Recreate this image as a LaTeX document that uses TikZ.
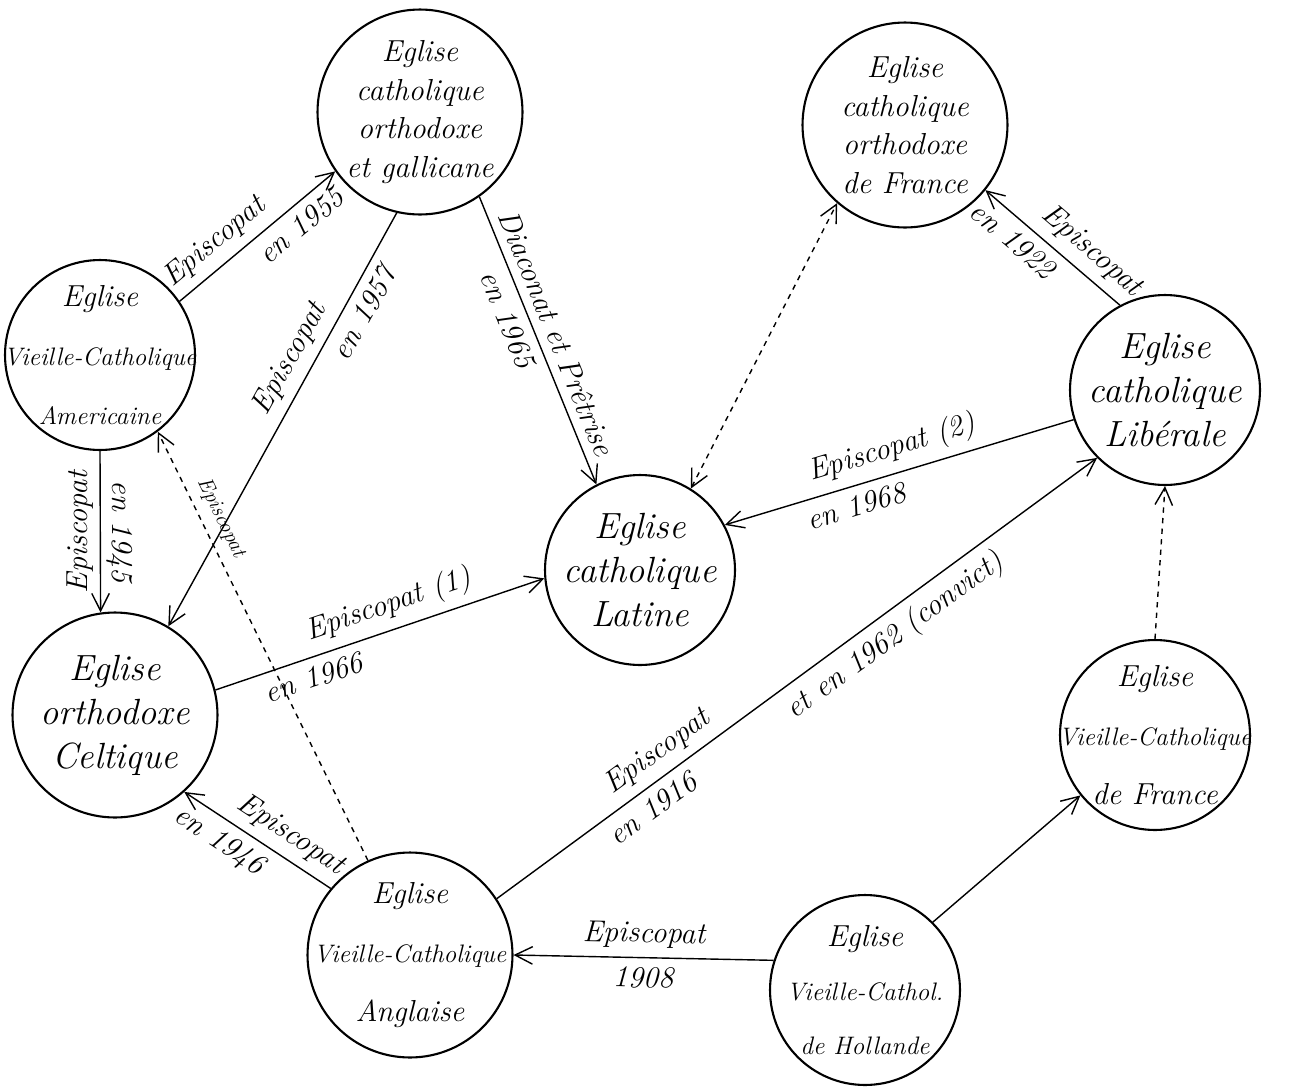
\documentclass[tikz,border=0pt]{standalone}
\usepackage{tikz}
\usetikzlibrary{arrows.meta,positioning}
\tikzstyle{eglise} = [draw, circle, very thick, inner sep=0pt, minimum size=3.8cm]
\tikzstyle{grande} = [minimum size=4.1cm]
\tikzstyle{texte} = [align=center, inner sep=0pt, font=\huge\itshape]
\tikzstyle{petit} = [font=\LARGE\itshape]
\tikzstyle{arrow} = [draw, thick, -{Straight Barb[length=3.5mm,width=3.5mm]}]
\tikzstyle{dasharrow} = [draw, thick, dashed, -{Straight Barb[length=3.5mm,width=3.5mm]}]
\tikzstyle{bidash} = [draw, thick, dashed, {Straight Barb[length=3.5mm,width=3.5mm]}-{Straight Barb[length=3.5mm,width=3.5mm]}]
\tikzstyle{lbl} = [font=\LARGE\itshape, sloped, inner sep=5pt]
\newcommand{\eglise}[3]{node (e#1) [eglise, label={[texte,#2]center:{#3}}] {}}
\newcommand{\grande}[3]{node (e#1) [eglise, grande, label={[texte,#2]center:{#3}}] {}}

\begin{document}
\begin{tikzpicture}[x=0.02cm,y=-0.02cm]
\useasboundingbox (0,0) rectangle (1289,1089);
\path (420,112) \grande{gal}{petit}{Eglise\\ catholique\\ orthodoxe\\ et gallicane};
\path (905,125) \grande{ofr}{petit}{Eglise\\ catholique\\ orthodoxe\\ de France};
\path (100,355) \eglise{ame}{petit}{Eglise\\[4mm] {\Large Vieille-Catholique}\\[4mm] {\Large Americaine}};
\path (1165,390) \eglise{lib}{}{Eglise\\ catholique\\ Libérale};
\path (640,570) \eglise{lat}{}{Eglise\\ catholique\\ Latine};
\path (115,715) \grande{cel}{}{Eglise\\ orthodoxe\\ Celtique};
\path (1155,735) \eglise{vfr}{petit}{Eglise\\[4mm] {\Large Vieille-Catholique}\\[4mm] de France};
\path (410,955) \grande{ang}{petit}{Eglise\\[4mm] {\Large Vieille-Catholique}\\[4mm] Anglaise};
\path (865,990) \eglise{hol}{petit}{Eglise\\[3mm] {\Large Vieille-Cathol.}\\[3mm] {\Large de Hollande}};

\path [arrow] (eame.34) -- (egal.215)
  node[lbl,above,pos=0.32] {Episcopat} node[lbl,below,pos=0.7] {en 1955};
\path [arrow] (egal.257) -- (ecel.59)
  node[lbl,above,pos=0.38] {Episcopat} node[lbl,below,pos=0.22] {en 1957};
\path [arrow] (egal.305) -- (elat.117)
  node[lbl,above,pos=0.5] {Diaconat et Prêtrise} node[lbl,below,pos=0.4] {en 1965};
\path [bidash] (elat.58) -- (eofr.229);
\path [arrow] (elib.118) -- (eofr.321)
  node[lbl,above,pos=0.32] {Episcopat} node[lbl,below,pos=0.7] {en 1922};
\path [arrow] (elib.198) -- (elat.28)
  node[lbl,above,pos=0.5] {Episcopat (2)} node[lbl,below,pos=0.64] {en 1968};
\path [arrow] (eame.270) -- (ecel.98)
  node[font=\LARGE\itshape,rotate=90,anchor=south,pos=0.5] {Episcopat}
  node[font=\LARGE\itshape,rotate=-90,anchor=south,pos=0.5] {en 1945};
\path [arrow] (ecel.14) -- (elat.185)
  node[lbl,above,pos=0.55] {Episcopat (1)} node[lbl,below,pos=0.28] {en 1966};
\path [dasharrow] (eang.114) -- (eame.307)
  node[lbl,font=\large\itshape,above,pos=0.78] {Episcopat};
\path [arrow] (eang.140) -- (ecel.312)
  node[lbl,above,pos=0.36] {Episcopat} node[lbl,below,pos=0.68] {en 1946};
\path [arrow] (eang.33) -- (elib.225)
  node[lbl,above,pos=0.29] {Episcopat} node[lbl,below,pos=0.24] {en 1916}
  node[lbl,below,pos=0.64] {et en 1962 (convict)};
\path [arrow] (ehol.162) -- (eang.0)
  node[lbl,above,pos=0.5] {Episcopat} node[lbl,below,pos=0.5] {1908};
\path [arrow] (ehol.45) -- (evfr.219);
\path [dasharrow] (evfr.90) -- (elib.270);
\end{tikzpicture}
\end{document}
